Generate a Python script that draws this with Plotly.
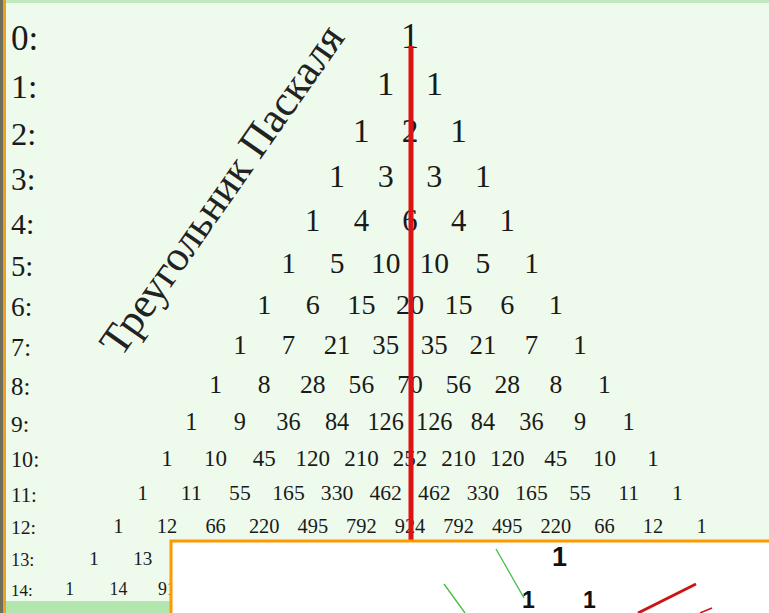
import plotly.graph_objects as go

# ---- data: Pascal's triangle rows as printed in the picture ----
rows = [
    [1],
    [1, 1],
    [1, 2, 1],
    [1, 3, 3, 1],
    [1, 4, 6, 4, 1],
    [1, 5, 10, 10, 5, 1],
    [1, 6, 15, 20, 15, 6, 1],
    [1, 7, 21, 35, 35, 21, 7, 1],
    [1, 8, 28, 56, 70, 56, 28, 8, 1],
    [1, 9, 36, 84, 126, 126, 84, 36, 9, 1],
    [1, 10, 45, 120, 210, 252, 210, 120, 45, 10, 1],
    [1, 11, 55, 165, 330, 462, 462, 330, 165, 55, 11, 1],
    [1, 12, 66, 220, 495, 792, 924, 792, 495, 220, 66, 12, 1],
    [1, 13, 78, 286, 715, 1287, 1716, 1716, 1287, 715, 286, 78, 13, 1],
    [1, 14, 91, 364, 1001, 2002, 3003, 3432, 3003, 2002, 1001, 364, 91, 14, 1],
]
row_labels = [f"{n}:" for n in range(len(rows))]
title_text = "Треугольник Паскаля"
inset_top = ["1"]
inset_second = ["1", "1"]

# ---- layout helpers (typesetting: font shrinks, line pitch shrinks) ----
W, H = 769, 613
X_UNIT = 48.6          # px per triangle step
X_CENTER = 410         # px
Y_UNIT = 48.86
Y_TOP = 38.5
SHRINK = 0.01377


def row_y(n):
    return n - SHRINK * n * n


def row_font(n):
    return 36 - 1.3 * n


xs, ys, txt, sizes = [], [], [], []
for n, r in enumerate(rows):
    for k, v in enumerate(r):
        xs.append(k - n / 2)
        ys.append(row_y(n))
        txt.append(str(v))
        sizes.append(row_font(n))

serif = "Liberation Serif, Times New Roman, serif"

fig = go.Figure()
fig.add_trace(go.Scatter(
    x=xs, y=ys, text=txt, mode="text",
    textposition="middle center",
    textfont=dict(family=serif, size=sizes, color="#1a1a1a"),
    hoverinfo="skip", showlegend=False,
))

annotations = []
for n, lab in enumerate(row_labels):
    annotations.append(dict(
        x=9 / W, xref="paper", xanchor="left",
        y=row_y(n), yref="y", yanchor="middle",
        text=lab, showarrow=False,
        font=dict(family=serif, size=row_font(n) - 0.8, color="#1a1a1a"),
    ))

annotations.append(dict(
    x=222 / W, y=1 - 190 / H, xref="paper", yref="paper",
    xanchor="center", yanchor="middle",
    text=title_text, textangle=-55, showarrow=False,
    font=dict(family=serif, size=43, color="#222222"),
))

sans = "Liberation Sans, Arial, sans-serif"
annotations.append(dict(
    x=559 / W, y=1 - 557 / H, xref="paper", yref="paper",
    xanchor="center", yanchor="middle",
    text="<b>%s</b>" % inset_top[0], showarrow=False,
    font=dict(family=sans, size=27, color="#111111"),
))
for px, t in zip([528, 589], inset_second):
    annotations.append(dict(
        x=px / W, y=1 - 600 / H, xref="paper", yref="paper",
        xanchor="center", yanchor="middle",
        text="<b>%s</b>" % t, showarrow=False,
        font=dict(family=sans, size=23, color="#111111"),
    ))


def P(px, py):
    return px / W, 1 - py / H


shapes = []
# frame decorations
shapes.append(dict(type="rect", xref="paper", yref="paper",
                   x0=0, x1=1, y0=1 - 3 / H, y1=1,
                   fillcolor="#c2e8c0", line_width=0, layer="below"))
shapes.append(dict(type="rect", xref="paper", yref="paper",
                   x0=0, x1=1, y0=0, y1=1 - 601 / H,
                   fillcolor="#b2e6ae", line_width=0, layer="below"))
shapes.append(dict(type="rect", xref="paper", yref="paper",
                   x0=0, x1=3 / W, y0=0, y1=1,
                   fillcolor="#6e6e5c", line_width=0, layer="above"))
shapes.append(dict(type="rect", xref="paper", yref="paper",
                   x0=3 / W, x1=6 / W, y0=0, y1=1,
                   fillcolor="#f0a020", line_width=0, layer="above"))
# red axis of symmetry
x0, y0 = P(411, 46)
x1, y1 = P(411, 613)
shapes.append(dict(type="line", xref="paper", yref="paper",
                   x0=x0, x1=x1, y0=y0, y1=y1,
                   line=dict(color="#dd1212", width=5), layer="above"))
# inset picture
ix0, iy0 = P(171, 541)
shapes.append(dict(type="rect", xref="paper", yref="paper",
                   x0=ix0, x1=1.01, y0=-0.01, y1=iy0,
                   fillcolor="#ffffff", line=dict(color="#ff9900", width=3),
                   layer="above"))
for (a, b, c, d) in [(496, 549, 524, 598), (444, 584, 465, 613)]:
    ax, ay = P(a, b)
    cx, cy = P(c, d)
    shapes.append(dict(type="line", xref="paper", yref="paper",
                       x0=ax, y0=ay, x1=cx, y1=cy,
                       line=dict(color="#44bb44", width=1.3), layer="above"))
for (a, b, c, d, w) in [(696, 584, 638, 613, 3), (700, 613, 712, 608, 1.5)]:
    ax, ay = P(a, b)
    cx, cy = P(c, d)
    shapes.append(dict(type="line", xref="paper", yref="paper",
                       x0=ax, y0=ay, x1=cx, y1=cy,
                       line=dict(color="#cc1616", width=w), layer="above"))

fig.update_layout(
    width=W, height=H,
    margin=dict(l=0, r=0, t=0, b=0, pad=0),
    paper_bgcolor="#eefbec", plot_bgcolor="#eefbec",
    xaxis=dict(range=[-X_CENTER / X_UNIT, (W - X_CENTER) / X_UNIT],
               visible=False, fixedrange=True),
    yaxis=dict(range=[(H - Y_TOP) / Y_UNIT, -Y_TOP / Y_UNIT],
               visible=False, fixedrange=True),
    annotations=annotations,
    shapes=shapes,
    showlegend=False,
)

fig.write_html(
    "out.html",
    config={"displayModeBar": False},
    post_script="document.body.style.margin='0';document.body.style.overflow='hidden';",
)
